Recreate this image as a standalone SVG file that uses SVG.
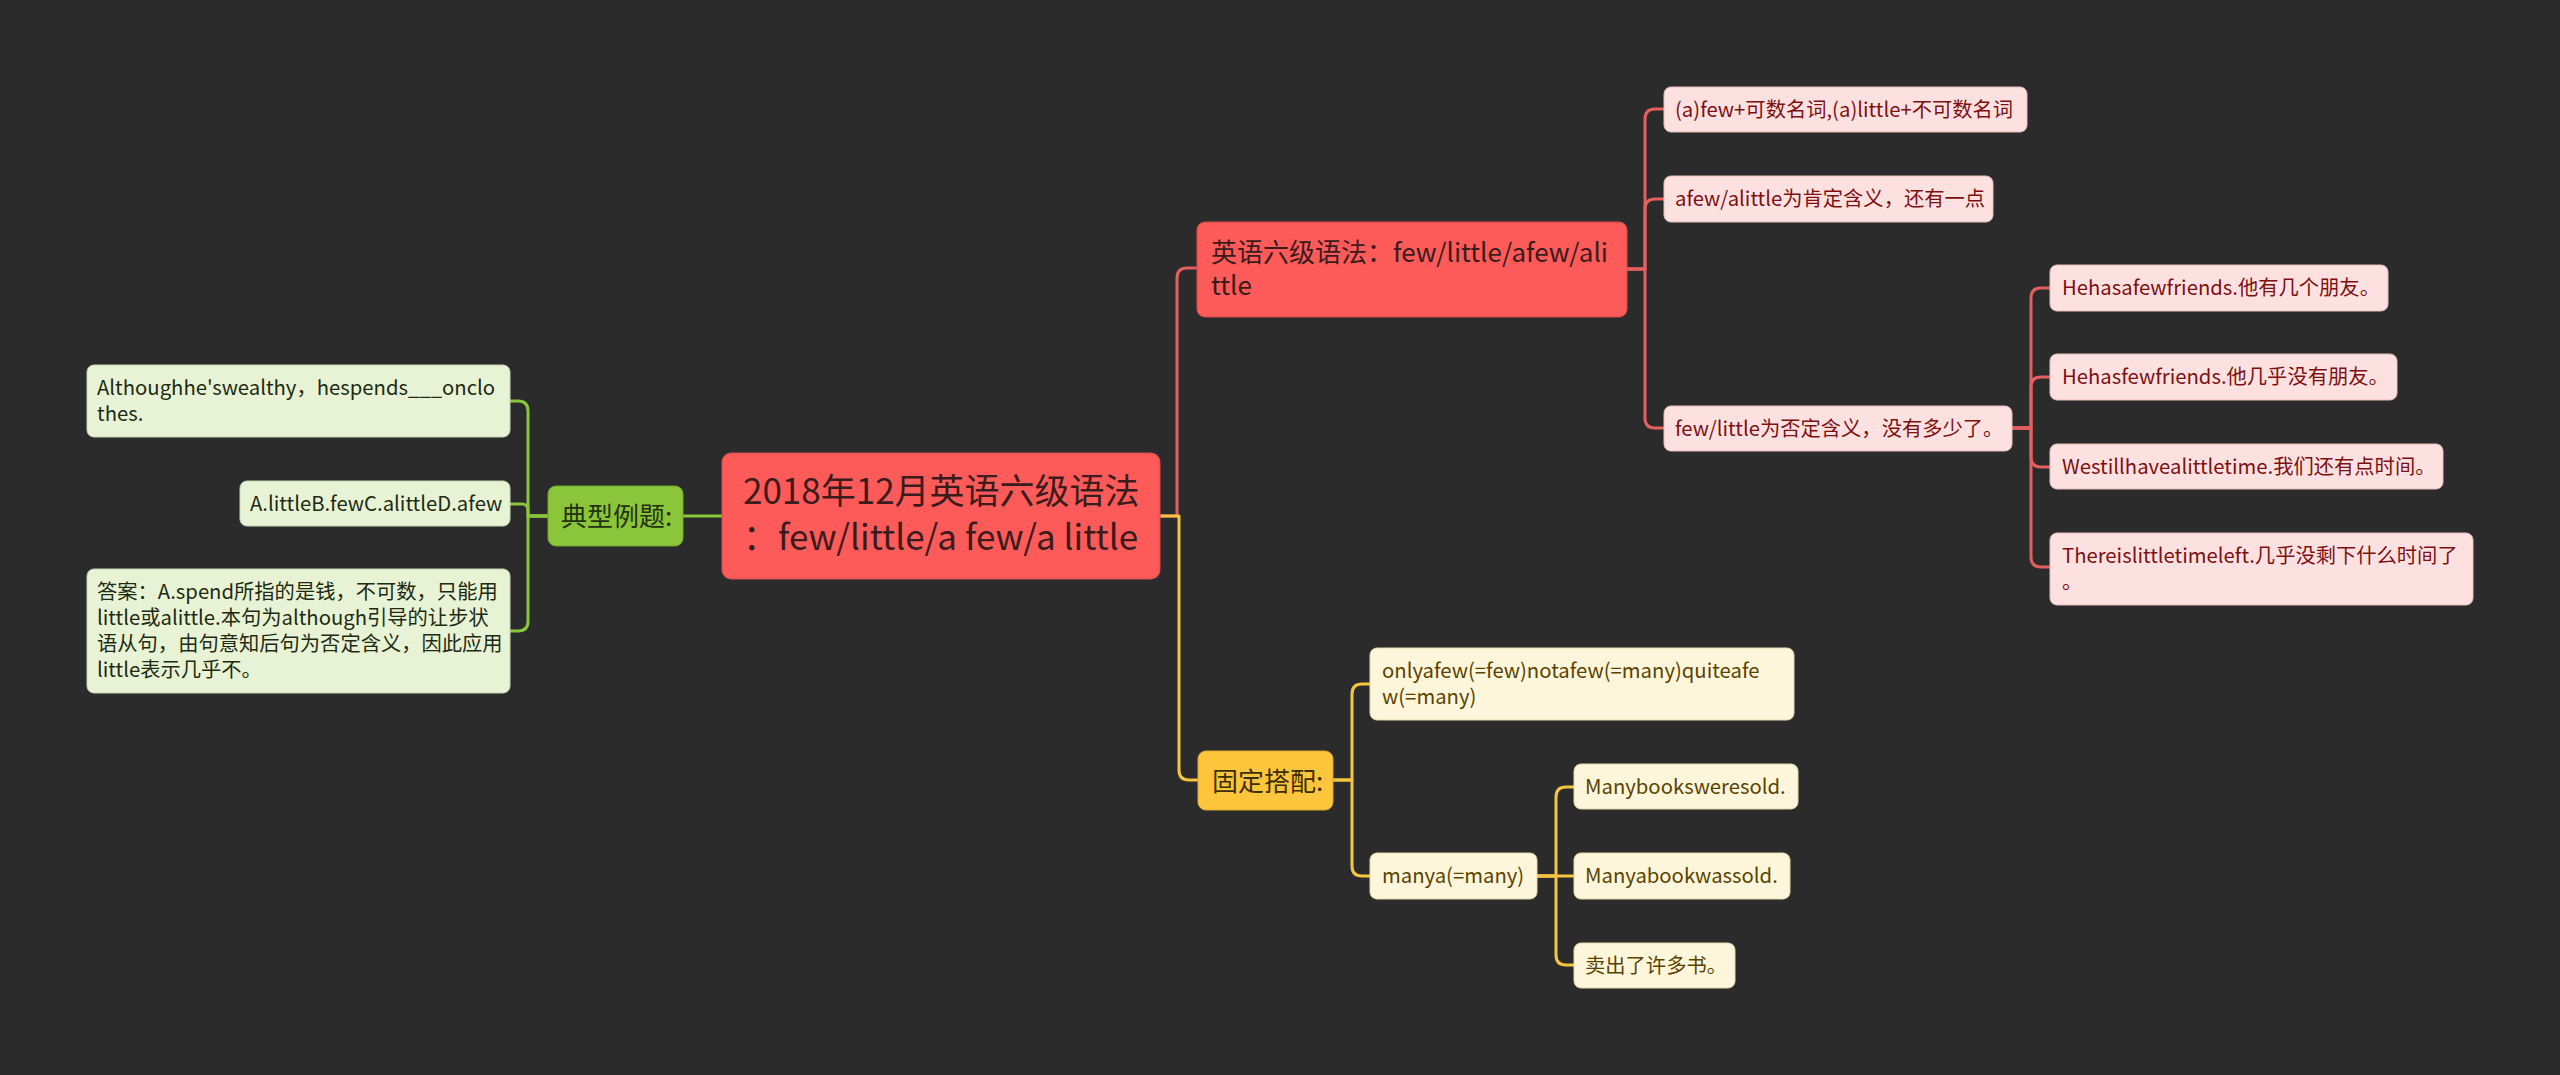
<svg xmlns="http://www.w3.org/2000/svg" width="2560" height="1075" viewBox="0 0 2560 1075">
<style>
text{font-family:"Noto Sans CJK SC","Noto Sans",sans-serif;}
.root rect{fill:#fd5a5a;stroke:#d84b4b;stroke-width:1}
.root text{font-size:35px;fill:#3b1c1c}
.br text{font-size:26px}
.rb rect{fill:#fd5a5a;stroke:#d84b4b;stroke-width:1}
.rb text{fill:#3b1c1c}
.gb rect{fill:#8bc63a;stroke:#73a82e;stroke-width:1}
.gb text{fill:#243210}
.yb rect{fill:#fdc53c;stroke:#dca830;stroke-width:1}
.yb text{fill:#3d2e00}
.lf text{font-size:20.3px}
.rl rect{fill:#fde1e1;stroke:#e9bcbc;stroke-width:1}
.rl text{fill:#7e1010}
.gl rect{fill:#e8f3d6;stroke:#c8d8b2;stroke-width:1}
.gl text{fill:#1e2a12}
.yl rect{fill:#fef6da;stroke:#e4d7ad;stroke-width:1}
.yl text{fill:#5a4300}
#connectors path{fill:none;stroke-width:3;stroke-linecap:round;stroke-linejoin:round}
.cr{stroke:#e45f5f}
.cg{stroke:#8bc63a}
.cy{stroke:#f5c542}
</style>
<rect x="0" y="0" width="2560" height="1075" fill="#2b2b2b"/>
<g id="connectors">
  <path class="cr" d="M1160 516 H1177 V278 Q1177 268 1187 268 H1197"/>
  <path class="cy" d="M1160 516 H1179 V770 Q1179 780 1189 780 H1198"/>
  <path class="cg" d="M722 516 H683"/>
  <path class="cg" d="M548 516 H528 V411 Q528 401 518 401 H510"/>
  <path class="cg" d="M548 516 H528 V510 Q528 504 522 504 H510"/>
  <path class="cg" d="M548 516 H528 V621 Q528 631 518 631 H510"/>
  <path class="cr" d="M1627 269 H1645 V119 Q1645 109 1655 109 H1664"/>
  <path class="cr" d="M1627 269 H1645 V209 Q1645 199 1655 199 H1664"/>
  <path class="cr" d="M1627 269 H1645 V418 Q1645 428 1655 428 H1664"/>
  <path class="cr" d="M2012 428 H2031 V298 Q2031 288 2041 288 H2050"/>
  <path class="cr" d="M2012 428 H2031 V387 Q2031 377 2041 377 H2050"/>
  <path class="cr" d="M2012 428 H2031 V457 Q2031 467 2041 467 H2050"/>
  <path class="cr" d="M2012 428 H2031 V557 Q2031 567 2041 567 H2050"/>
  <path class="cy" d="M1333 780 H1352 V694 Q1352 684 1362 684 H1370"/>
  <path class="cy" d="M1333 780 H1352 V866 Q1352 876 1362 876 H1370"/>
  <path class="cy" d="M1537 876 H1556 V797 Q1556 787 1566 787 H1574"/>
  <path class="cy" d="M1537 876 H1574"/>
  <path class="cy" d="M1537 876 H1556 V955 Q1556 965 1566 965 H1574"/>
</g>
<g id="root" class="root">
  <rect x="722" y="453" width="438" height="126" rx="9"/>
  <text x="743" y="504">2018年12月英语六级语法</text>
  <text x="743" y="550">：few/little/a few/a little</text>
</g>
<g id="branch-grammar" class="br rb">
  <rect x="1197" y="222" width="430" height="95" rx="8"/>
  <text x="1211" y="262">英语六级语法：few/little/afew/ali</text>
  <text x="1211" y="295">ttle</text>
</g>
<g id="branch-examples" class="br gb">
  <rect x="548" y="486" width="135" height="60" rx="8"/>
  <text x="561" y="526">典型例题:</text>
</g>
<g id="branch-collocations" class="br yb">
  <rect x="1198" y="751" width="135" height="59" rx="8"/>
  <text x="1212" y="791">固定搭配:</text>
</g>
<g id="leaf-r1" class="lf rl">
  <rect x="1664" y="87" width="363" height="45" rx="7"/>
  <text x="1675" y="117">(a)few+可数名词,(a)little+不可数名词</text>
</g>
<g id="leaf-r2" class="lf rl">
  <rect x="1664" y="176" width="329" height="46" rx="7"/>
  <text x="1675" y="206">afew/alittle为肯定含义，还有一点</text>
</g>
<g id="leaf-r3" class="lf rl">
  <rect x="1664" y="406" width="348" height="45" rx="7"/>
  <text x="1675" y="436">few/little为否定含义，没有多少了。</text>
</g>
<g id="leaf-r3a" class="lf rl">
  <rect x="2050" y="265" width="338" height="46" rx="7"/>
  <text x="2062" y="295">Hehasafewfriends.他有几个朋友。</text>
</g>
<g id="leaf-r3b" class="lf rl">
  <rect x="2050" y="354" width="347" height="46" rx="7"/>
  <text x="2062" y="384">Hehasfewfriends.他几乎没有朋友。</text>
</g>
<g id="leaf-r3c" class="lf rl">
  <rect x="2050" y="444" width="393" height="45" rx="7"/>
  <text x="2062" y="474">Westillhavealittletime.我们还有点时间。</text>
</g>
<g id="leaf-r3d" class="lf rl">
  <rect x="2050" y="533" width="423" height="72" rx="7"/>
  <text x="2062" y="563">Thereislittletimeleft.几乎没剩下什么时间了</text>
  <text x="2062" y="589">。</text>
</g>
<g id="leaf-g1" class="lf gl">
  <rect x="87" y="365" width="423" height="72" rx="7"/>
  <text x="97" y="395">Althoughhe'swealthy，hespends___onclo</text>
  <text x="97" y="421">thes.</text>
</g>
<g id="leaf-g2" class="lf gl">
  <rect x="240" y="481" width="270" height="45" rx="7"/>
  <text x="250" y="511">A.littleB.fewC.alittleD.afew</text>
</g>
<g id="leaf-g3" class="lf gl">
  <rect x="87" y="569" width="423" height="124" rx="7"/>
  <text x="97" y="599">答案：A.spend所指的是钱，不可数，只能用</text>
  <text x="97" y="625">little或alittle.本句为although引导的让步状</text>
  <text x="97" y="651">语从句，由句意知后句为否定含义，因此应用</text>
  <text x="97" y="677">little表示几乎不。</text>
</g>
<g id="leaf-y1" class="lf yl">
  <rect x="1370" y="648" width="424" height="72" rx="7"/>
  <text x="1382" y="678">onlyafew(=few)notafew(=many)quiteafe</text>
  <text x="1382" y="704">w(=many)</text>
</g>
<g id="leaf-y2" class="lf yl">
  <rect x="1370" y="853" width="167" height="46" rx="7"/>
  <text x="1382" y="883">manya(=many)</text>
</g>
<g id="leaf-y2a" class="lf yl">
  <rect x="1574" y="764" width="224" height="45" rx="7"/>
  <text x="1585" y="794">Manybooksweresold.</text>
</g>
<g id="leaf-y2b" class="lf yl">
  <rect x="1574" y="853" width="216" height="46" rx="7"/>
  <text x="1585" y="883">Manyabookwassold.</text>
</g>
<g id="leaf-y2c" class="lf yl">
  <rect x="1574" y="943" width="161" height="45" rx="7"/>
  <text x="1585" y="973">卖出了许多书。</text>
</g>
</svg>
